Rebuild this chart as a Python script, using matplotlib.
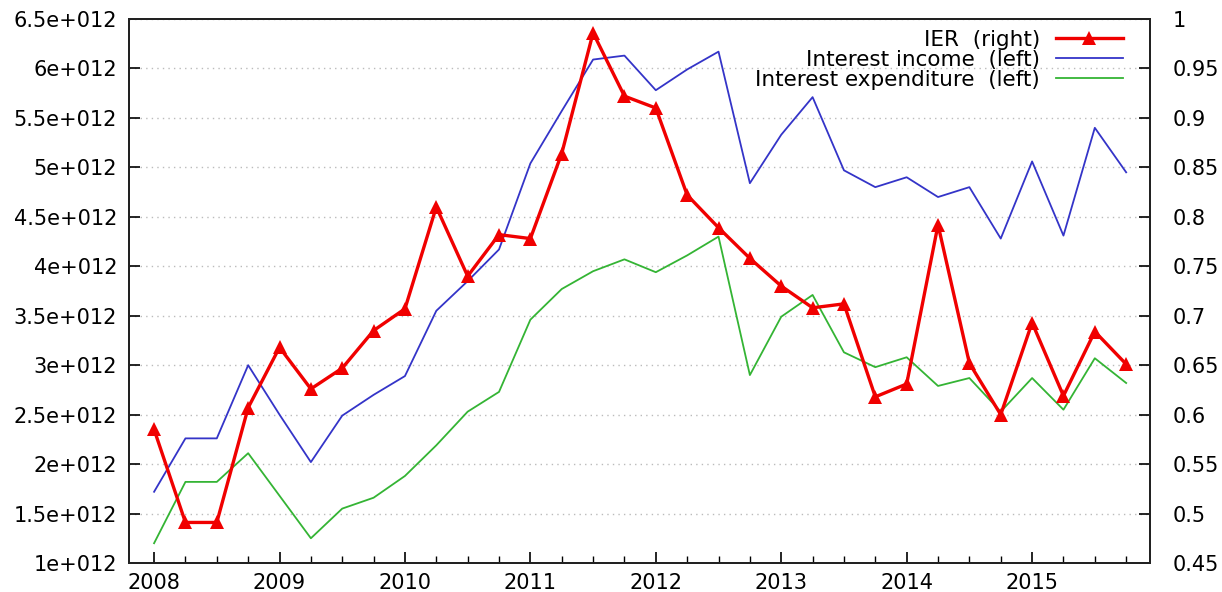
"""Interest income / expenditure (left axis) vs IER (right axis), quarterly 2008-2015."""
import matplotlib
matplotlib.use("Agg")
import matplotlib.pyplot as plt
from matplotlib.ticker import FixedLocator, MultipleLocator

# quarters 2008Q1 .. 2015Q4
years = list(range(2008, 2016))
quarters = [y + q / 4 for y in years for q in range(4)]

interest_income = [
    1.72e12, 2.26e12, 2.26e12, 3.00e12, 2.50e12, 2.02e12, 2.49e12, 2.70e12,
    2.89e12, 3.55e12, 3.85e12, 4.17e12, 5.04e12, 5.57e12, 6.09e12, 6.13e12,
    5.78e12, 5.99e12, 6.17e12, 4.84e12, 5.33e12, 5.71e12, 4.97e12, 4.80e12,
    4.90e12, 4.70e12, 4.80e12, 4.28e12, 5.06e12, 4.31e12, 5.40e12, 4.95e12,
]
interest_expenditure = [
    1.20e12, 1.82e12, 1.82e12, 2.11e12, 1.68e12, 1.25e12, 1.55e12, 1.66e12,
    1.88e12, 2.19e12, 2.53e12, 2.73e12, 3.46e12, 3.77e12, 3.95e12, 4.07e12,
    3.94e12, 4.11e12, 4.30e12, 2.90e12, 3.49e12, 3.71e12, 3.13e12, 2.98e12,
    3.08e12, 2.79e12, 2.87e12, 2.53e12, 2.87e12, 2.55e12, 3.07e12, 2.82e12,
]
ier = [
    0.585, 0.491, 0.491, 0.607, 0.668, 0.626, 0.647, 0.685,
    0.707, 0.810, 0.740, 0.782, 0.778, 0.864, 0.986, 0.922,
    0.910, 0.822, 0.789, 0.758, 0.730, 0.708, 0.712, 0.618,
    0.631, 0.792, 0.652, 0.600, 0.693, 0.619, 0.684, 0.651,
]

left_ticks = [1e12 + 0.5e12 * i for i in range(12)]
left_labels = ["1e+012", "1.5e+012", "2e+012", "2.5e+012", "3e+012", "3.5e+012",
               "4e+012", "4.5e+012", "5e+012", "5.5e+012", "6e+012", "6.5e+012"]
right_ticks = [0.45, 0.5, 0.55, 0.6, 0.65, 0.7, 0.75, 0.8, 0.85, 0.9, 0.95, 1.0]
right_labels = ["0.45", "0.5", "0.55", "0.6", "0.65", "0.7", "0.75", "0.8",
                "0.85", "0.9", "0.95", "1"]

RED = "#f00000"
BLUE = "#3434c8"
GREEN = "#34b434"

plt.rcParams["font.family"] = ["DejaVu Sans"]
plt.rcParams["font.size"] = 15

fig = plt.figure(figsize=(12.22, 5.92), dpi=100)
ax = fig.add_axes([129 / 1222, 1 - 563 / 592, (1150 - 129) / 1222, (563 - 19) / 592])
ax2 = ax.twinx()

l_inc, = ax.plot(quarters, interest_income, color=BLUE, lw=1.3)
l_exp, = ax.plot(quarters, interest_expenditure, color=GREEN, lw=1.3)
l_ier, = ax2.plot(quarters, ier, color=RED, lw=2.4, marker="^", ms=10,
                  markeredgewidth=0)
ax2.set_zorder(ax.get_zorder() + 1)
ax2.patch.set_visible(False)

ax.set_xlim(2007.8, 2015.94)
ax.set_ylim(1e12, 6.5e12)
ax2.set_ylim(0.45, 1.0)

ax.set_xticks(years)
ax.set_xticklabels([str(y) for y in years])
ax.xaxis.set_minor_locator(MultipleLocator(0.25))
ax.yaxis.set_major_locator(FixedLocator(left_ticks))
ax.set_yticklabels(left_labels)
ax2.yaxis.set_major_locator(FixedLocator(right_ticks))
ax2.set_yticklabels(right_labels)

ax.tick_params(axis="x", which="major", direction="in", length=8, width=1.2,
               top=False, pad=7)
ax.tick_params(axis="x", which="minor", direction="in", length=5, width=1,
               top=False)
ax.tick_params(axis="y", direction="in", length=8, width=1.2, pad=8.5)
ax2.tick_params(axis="y", direction="in", length=8, width=1.2, pad=16)

for a in (ax, ax2):
    for s in a.spines.values():
        s.set_linewidth(1.4)
        s.set_color("#222222")

ax.grid(axis="y", color="#bbbbbb", linestyle=(0, (1, 3)), lw=1)
ax.set_axisbelow(True)

ax2.legend([l_ier, l_inc, l_exp],
           ["IER  (right)", "Interest income  (left)", "Interest expenditure  (left)"],
           loc="upper right", bbox_to_anchor=(0.988, 1.008), frameon=False,
           markerfirst=False, handlelength=3.1, handletextpad=0.75,
           labelspacing=0.0, borderaxespad=0.3, fontsize=15.5)

fig.savefig("out.png", dpi=100)
